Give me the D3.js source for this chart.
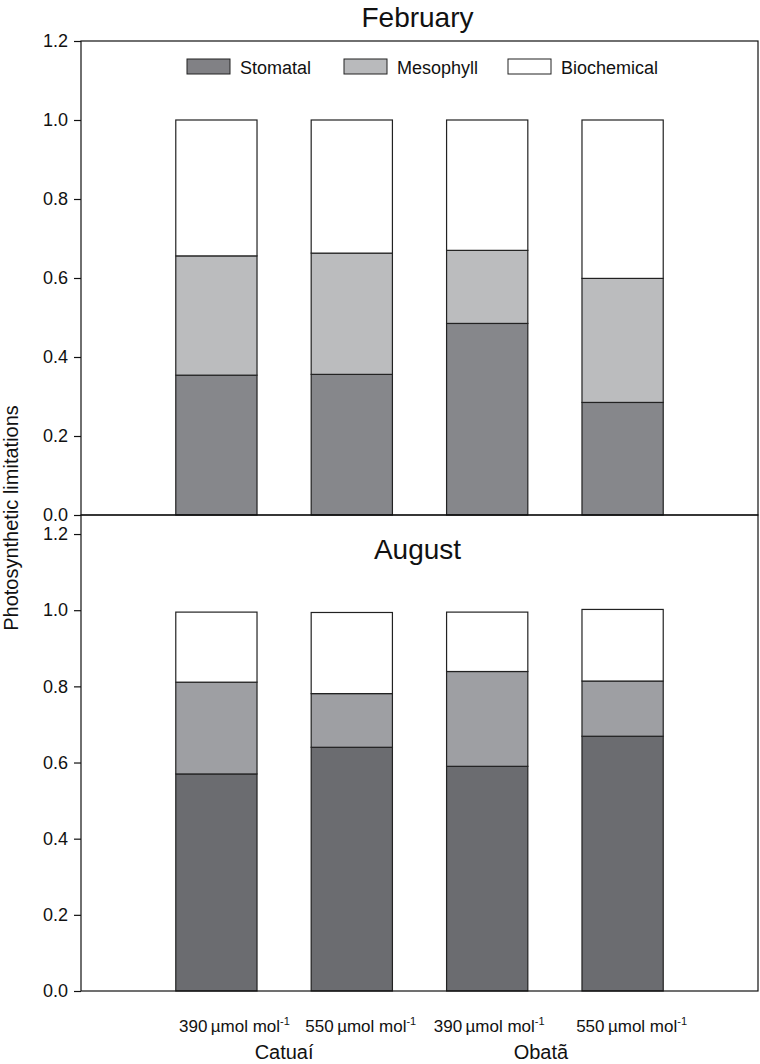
<!DOCTYPE html>
<html>
<head>
<meta charset="utf-8">
<script src="https://cdn.jsdelivr.net/npm/d3@7/dist/d3.min.js"></script>
<style>
  body { margin: 0; background: #fff; }
  svg text { font-family: "Liberation Sans", Arial, sans-serif; fill: #111; }
</style>
</head>
<body>
<svg id="chart" width="760" height="1064"></svg>
<script>
// treatments (one bar each)
const treatments = ["390", "550", "390", "550"];
const cultivars = ["Catuaí", "Obatã"];
const layers = ["Stomatal", "Mesophyll", "Biochemical"];

// cumulative tops of each layer
const febStomatal = [0.354, 0.356, 0.485, 0.285];
const febMesophyll = [0.656, 0.663, 0.670, 0.599];
const febTotal = [1.0, 1.0, 1.0, 1.0];

const augStomatal = [0.570, 0.640, 0.590, 0.669];
const augMesophyll = [0.811, 0.781, 0.839, 0.814];
const augTotal = [0.995, 0.994, 0.995, 1.002];

const yTicks = [0.0, 0.2, 0.4, 0.6, 0.8, 1.0, 1.2];

const svg = d3.select("#chart");
const left = 81, right = 758;

const x = d3.scaleLinear().domain([0, 5]).range([left, right]);
const barW = x(0.6) - x(0);

function drawPanel(cfg) {
  const y = d3.scaleLinear().domain(cfg.domain).range([cfg.bottom, cfg.top]);
  const g = svg.append("g");

  treatments.forEach((t, i) => {
    const tops = [cfg.stom[i], cfg.meso[i], cfg.total[i]];
    let base = 0;
    tops.forEach((top, k) => {
      g.append("rect")
        .attr("x", x(i + 1) - barW / 2)
        .attr("y", y(top))
        .attr("width", barW)
        .attr("height", y(base) - y(top))
        .attr("fill", cfg.colors[k])
        .attr("stroke", "#222")
        .attr("stroke-width", 1.2);
      base = top;
    });
  });

  // frame
  g.append("rect")
    .attr("x", left).attr("y", cfg.top)
    .attr("width", right - left).attr("height", cfg.bottom - cfg.top)
    .attr("fill", "none").attr("stroke", "#111").attr("stroke-width", 1.2);

  const ax = g.append("g")
    .attr("transform", `translate(${left},0)`)
    .call(d3.axisLeft(y).tickValues(yTicks).tickFormat(d3.format(".1f")).tickSize(7).tickPadding(6));
  ax.select(".domain").remove();
  ax.selectAll("line").attr("stroke", "#111").attr("stroke-width", 1.2);
  ax.selectAll("text").style("font-size", "18px").attr("fill", "#111");

  g.append("text")
    .attr("x", (left + right) / 2 - 2).attr("y", cfg.titleY)
    .attr("text-anchor", "middle")
    .style("font-size", "28px")
    .text(cfg.title);
  return y;
}

drawPanel({
  title: "February", titleY: 27,
  domain: [0, 1.2], top: 41, bottom: 515,
  stom: febStomatal, meso: febMesophyll, total: febTotal,
  colors: ["#86878b", "#bbbcbe", "#ffffff"]
});

drawPanel({
  title: "August", titleY: 559,
  domain: [0, 1.25], top: 515, bottom: 991,
  stom: augStomatal, meso: augMesophyll, total: augTotal,
  colors: ["#6b6c70", "#9e9fa3", "#ffffff"]
});

// legend
const legendColors = ["#818185", "#b9babc", "#ffffff"];
const legendX = [187, 344, 508];
layers.forEach((name, k) => {
  svg.append("rect")
    .attr("x", legendX[k]).attr("y", 59)
    .attr("width", 43).attr("height", 15)
    .attr("fill", legendColors[k])
    .attr("stroke", "#222").attr("stroke-width", 1);
  svg.append("text")
    .attr("x", legendX[k] + 53).attr("y", 74)
    .style("font-size", "18px")
    .text(name);
});

// x labels
const labelShift = [18, 9, 2, 9];
treatments.forEach((t, i) => {
  const txt = svg.append("text")
    .attr("x", x(i + 1) + labelShift[i]).attr("y", 1032)
    .attr("text-anchor", "middle")
    .style("font-size", "17px");
  txt.append("tspan").text(t + "\u2009\u00b5mol mol");
  txt.append("tspan").attr("dy", -7).style("font-size", "11px").text("-1");
});

[1.5, 3.5].forEach((c, j) => {
  svg.append("text")
    .attr("x", x(c) + (j === 0 ? 0 : -14)).attr("y", 1059)
    .attr("text-anchor", "middle")
    .style("font-size", "20px")
    .text(cultivars[j]);
});

// y label
svg.append("text")
  .attr("transform", "translate(18,518) rotate(-90)")
  .attr("text-anchor", "middle")
  .style("font-size", "20px")
  .text("Photosynthetic limitations");
</script>
</body>
</html>
